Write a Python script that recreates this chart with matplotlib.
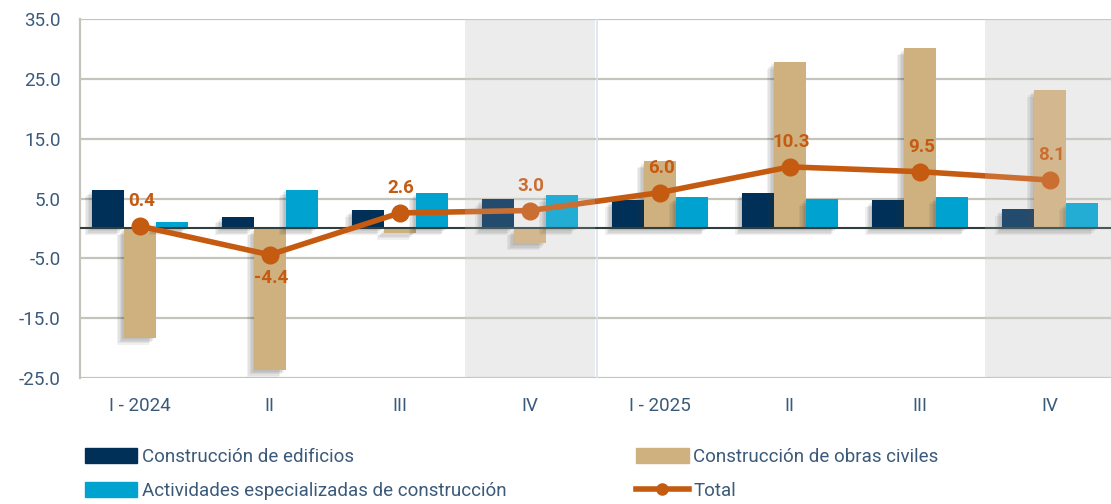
import matplotlib

matplotlib.use("Agg")
from matplotlib import pyplot as plt  # noqa: E402
from matplotlib import patheffects as pe  # noqa: E402
from matplotlib.lines import Line2D  # noqa: E402
from matplotlib.patches import Patch  # noqa: E402
import numpy as np  # noqa: E402

quarters = ["I - 2024", "II", "III", "IV", "I - 2025", "II", "III", "IV"]
edificios = [6.5, 2.0, 3.1, 5.0, 4.8, 5.9, 4.7, 3.3]
obras_civiles = [-18.3, -23.7, -0.7, -2.5, 11.2, 27.9, 30.1, 23.2]
especializadas = [1.1, 6.5, 5.9, 5.6, 5.3, 5.0, 5.3, 4.3]
total = [0.4, -4.4, 2.6, 3.0, 6.0, 10.3, 9.5, 8.1]
yticks = [35.0, 25.0, 15.0, 5.0, -5.0, -15.0, -25.0]

navy = "#003057"
tan = "#CFB07F"
cyan = "#00A3D0"
orange = "#C55A11"
text_color = "#3B5A7A"

plt.rcParams["font.family"] = ["Roboto", "DejaVu Sans"]

fig = plt.figure(figsize=(11.11, 5.04), dpi=100)
ax = fig.add_axes([80 / 1111, 0.25, 1 - 80 / 1111, 0.712])

x = np.arange(len(quarters))
width = 0.245
# soft drop shadow: a few faint offset copies
shadow = [
    pe.SimplePatchShadow(offset=(-d, -d), alpha=0.07, shadow_rgbFace="#333333")
    for d in (1, 2, 3, 4, 5)
] + [pe.Normal()]

for span in (3, 7):
    ax.axvspan(span - 0.5, span + 0.5, color="#ECECEC", zorder=0, lw=0)

for offset, values, color in (
    (-width, edificios, navy),
    (0, obras_civiles, tan),
    (width, especializadas, cyan),
):
    bars = ax.bar(x + offset, values, width, color=color, zorder=3)
    for bar in bars:
        bar.set_path_effects(shadow)

ax.axhline(0, color="#2F3F3F", lw=1.5, zorder=4)
ax.plot(x, total, color=orange, lw=4, marker="o", markersize=12, zorder=5)

for i, value in enumerate(total):
    dy = -17 if value < 0 else 18
    ax.annotate(
        f"{value:.1f}", (x[i], value), xytext=(1, dy), textcoords="offset points",
        ha="center", va="center", color=orange, fontsize=13.5, fontweight="bold", zorder=6,
    )

for span in (3, 7):
    ax.axvspan(span - 0.5, span + 0.5, color="#ECECEC", alpha=0.15, zorder=7, lw=0)
ax.axvline(3.52, color="#D9E3EE", lw=1.2, zorder=1)

ax.set_xlim(-0.46, 7.47)
ax.set_ylim(-25, 35)
ax.set_yticks(yticks)
ax.set_yticklabels([f"{t:.1f}" for t in yticks])
ax.set_xticks(x)
ax.set_xticklabels(quarters)
ax.grid(axis="y", color="#C4C4BC", lw=1.6, zorder=1)
ax.set_axisbelow(True)
for side in ("top", "right", "bottom"):
    ax.spines[side].set_visible(False)
ax.spines["left"].set_color("#C4C4BC")
ax.spines["left"].set_linewidth(1.6)
ax.tick_params(length=0, colors=text_color, labelsize=13.5, pad=14)
ax.tick_params(axis="y", pad=14)

handles = [
    Patch(color=navy, label="Construcción de edificios"),
    Patch(color=cyan, label="Actividades especializadas de construcción"),
    Patch(color=tan, label="Construcción de obras civiles"),
    Line2D([], [], color=orange, lw=4, marker="o", markersize=8, label="Total"),
]
fig.legend(
    handles=handles, ncol=2, loc="upper left", bbox_to_anchor=(68 / 1111, 0.145),
    frameon=False, fontsize=13.5, labelcolor=text_color, handlelength=2.8,
    handleheight=0.85, handletextpad=0.25, columnspacing=6.9, labelspacing=0.85,
)

fig.savefig("out.png", dpi=100)
